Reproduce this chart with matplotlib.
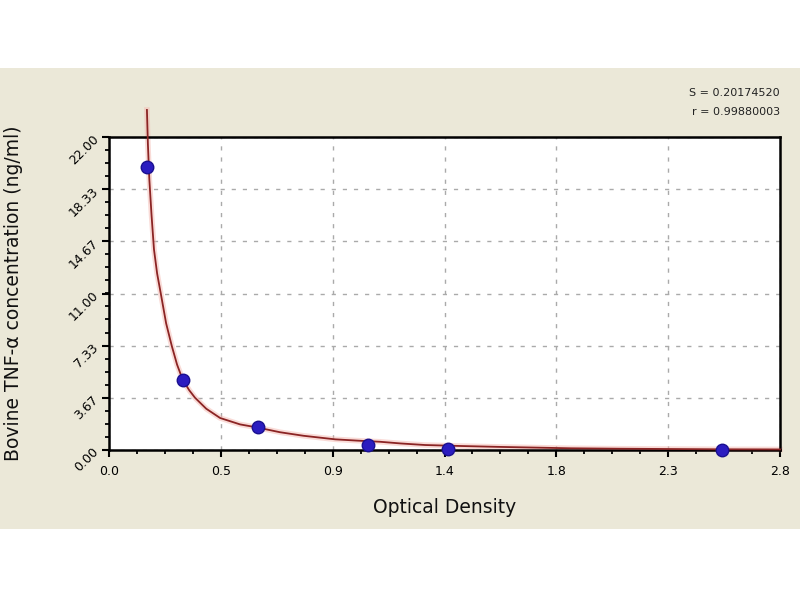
import matplotlib
matplotlib.use("Agg")
import matplotlib.pyplot as plt
from matplotlib.patches import Rectangle
from matplotlib.ticker import AutoMinorLocator

# Data
od_points = [0.156, 0.303, 0.611, 1.065, 1.394, 2.52]
conc_points = [19.89, 4.92, 1.63, 0.35, 0.07, 0.02]

curve_x = [0.156, 0.160, 0.166, 0.175, 0.185, 0.198, 0.213, 0.235, 0.258, 0.280,
           0.303, 0.330, 0.354, 0.400, 0.457, 0.539, 0.611, 0.703, 0.80, 0.93,
           1.02, 1.114, 1.20, 1.30, 1.45, 1.6, 1.75, 1.9, 2.1, 2.3, 2.5, 2.76]
curve_y = [23.9, 21.5, 19.0, 16.5, 14.1, 12.4, 11.0, 8.9, 7.33, 6.0,
           4.95, 4.2, 3.67, 2.9, 2.25, 1.8, 1.58, 1.25, 1.0, 0.75,
           0.66, 0.58, 0.46, 0.35, 0.28, 0.22, 0.17, 0.12, 0.09, 0.07, 0.05, 0.04]

x_ticks = [0.0, 0.46, 0.92, 1.38, 1.84, 2.30, 2.76]
x_labels = ["0.0", "0.5", "0.9", "1.4", "1.8", "2.3", "2.8"]
y_ticks = [0.0, 3.67, 7.33, 11.0, 14.67, 18.33, 22.0]
y_labels = ["0.00", "3.67", "7.33", "11.00", "14.67", "18.33", "22.00"]

fig = plt.figure(figsize=(8, 6), dpi=100, facecolor="white")
band = Rectangle((0, (600 - 529) / 600), 1, (529 - 68) / 600,
                 transform=fig.transFigure, facecolor="#ebe8d8",
                 edgecolor="none", zorder=-10)
fig.patches.append(band)

ax = fig.add_axes([109 / 800, 150 / 600, 671 / 800, 313 / 600])
ax.set_zorder(5)
ax.set_facecolor("white")

ax.plot(curve_x, curve_y, color="#f4b8b0", lw=4, alpha=0.5, clip_on=False, zorder=2)
ax.plot(curve_x, curve_y, color="#8b2424", lw=1.3, clip_on=False, zorder=3)
ax.plot(od_points, conc_points, linestyle="none", marker="o", markersize=9,
        color="#2b1cc0", markeredgecolor="#1a1090", zorder=4, clip_on=False)

ax.set_xlim(0, 2.76)
ax.set_ylim(0, 22.0)
ax.set_xticks(x_ticks)
ax.set_xticklabels(x_labels)
ax.set_yticks(y_ticks)
ax.set_yticklabels(y_labels, rotation=45, ha="right", va="center",
                   rotation_mode="anchor")
ax.xaxis.set_minor_locator(AutoMinorLocator(4))
ax.yaxis.set_minor_locator(AutoMinorLocator(4))
ax.tick_params(which="major", length=5, width=1.5, direction="out",
               labelsize=9, colors="black")
ax.tick_params(which="minor", length=3, width=1.3, direction="out")
ax.tick_params(axis="x", pad=6)
ax.tick_params(axis="y", pad=4)

ax.grid(True, which="major", linestyle=(0, (3, 5)), color="#aaaaaa", lw=1)
for s in ax.spines.values():
    s.set_linewidth(1.8)
    s.set_color("black")

ax.set_xlabel("Optical Density", fontsize=13.5, labelpad=14, color="#111111")
ax.set_ylabel("Bovine TNF-\u03b1 concentration (ng/ml)", fontsize=13.5,
              color="#111111")
ax.yaxis.set_label_coords(-0.128, 0.5)

fig.text(780 / 800, 1 - 93 / 600, "S = 0.20174520", ha="right", va="center",
         fontsize=8, color="#222222")
fig.text(780 / 800, 1 - 112 / 600, "r = 0.99880003", ha="right", va="center",
         fontsize=8, color="#222222")

fig.savefig("out.png", dpi=100, facecolor=fig.get_facecolor())
